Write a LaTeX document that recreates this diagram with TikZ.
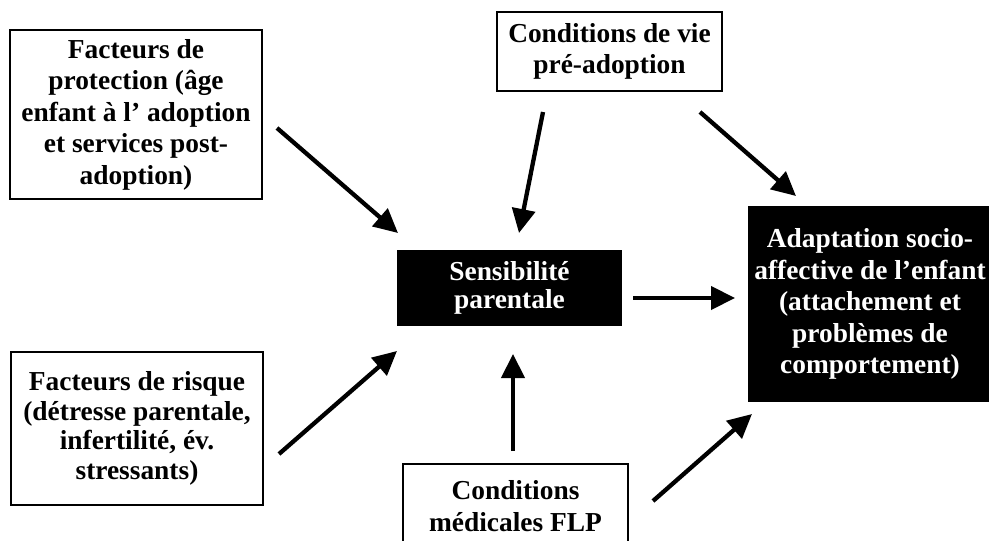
\documentclass[tikz,border=0pt]{standalone}
\usepackage{fontspec}
\setmainfont{Liberation Serif}
\usetikzlibrary{arrows.meta}
\begin{document}
\begin{tikzpicture}[x=1pt,y=-1pt,
  box/.style={draw=black,line width=2pt,fill=white,align=center,inner sep=0pt,
    font=\bfseries\fontsize{27.4}{31.5}\selectfont},
  blackbox/.style={fill=black,text=white,align=center,inner sep=0pt,
    font=\bfseries\fontsize{27.4}{31.5}\selectfont},
  arr/.style={line width=4.3pt,-{Triangle[length=24pt,width=23pt]}}]
\useasboundingbox (0,0) rectangle (989,541);
\clip (0,0) rectangle (989,541);
\fill[white] (0,0) rectangle (989,541);

% boxes
\node[box,minimum width=252pt,minimum height=169pt] (prot) at (136,114.5)
  {Facteurs de\\protection (âge\\enfant à l’ adoption\\et services post-\\adoption)};
\node[box,minimum width=225pt,minimum height=79pt] (vie) at (609.5,51.5)
  {Conditions de vie\\pré-adoption};
\node[blackbox,minimum width=225pt,minimum height=76pt,
  font=\bfseries\fontsize{27.4}{28}\selectfont] (sens) at (509.5,288)
  {Sensibilité\\parentale};
\node[blackbox,minimum width=244pt,minimum height=196pt] (adap) at (870,304)
  {Adaptation socio-\\affective de l’enfant\\(attachement et\\problèmes de\\comportement)};
\node[box,minimum width=252pt,minimum height=153pt,
  font=\bfseries\fontsize{27.4}{29.5}\selectfont] (risq) at (137,428.5)
  {Facteurs de risque\\(détresse parentale,\\infertilité, év.\\stressants)};
\node[box,minimum width=225pt,minimum height=84pt] (med) at (515.5,506)
  {Conditions\\médicales FLP};

% arrow end points
\coordinate (p1) at (277,128);  \coordinate (q1) at (398,233);
\coordinate (p2) at (543,112);  \coordinate (q2) at (519,233);
\coordinate (p3) at (700,112);  \coordinate (q3) at (796,196);
\coordinate (p4) at (633,298);  \coordinate (q4) at (735,298);
\coordinate (p5) at (279,454);  \coordinate (q5) at (397,351);
\coordinate (p6) at (513,451);  \coordinate (q6) at (513,354);
\coordinate (p7) at (653,501);  \coordinate (q7) at (752,414);

\draw[arr] (p1) -- (q1);
\draw[arr] (p2) -- (q2);
\draw[arr] (p3) -- (q3);
\draw[arr] (p4) -- (q4);
\draw[arr] (p5) -- (q5);
\draw[arr] (p6) -- (q6);
\draw[arr] (p7) -- (q7);
\end{tikzpicture}
\end{document}
